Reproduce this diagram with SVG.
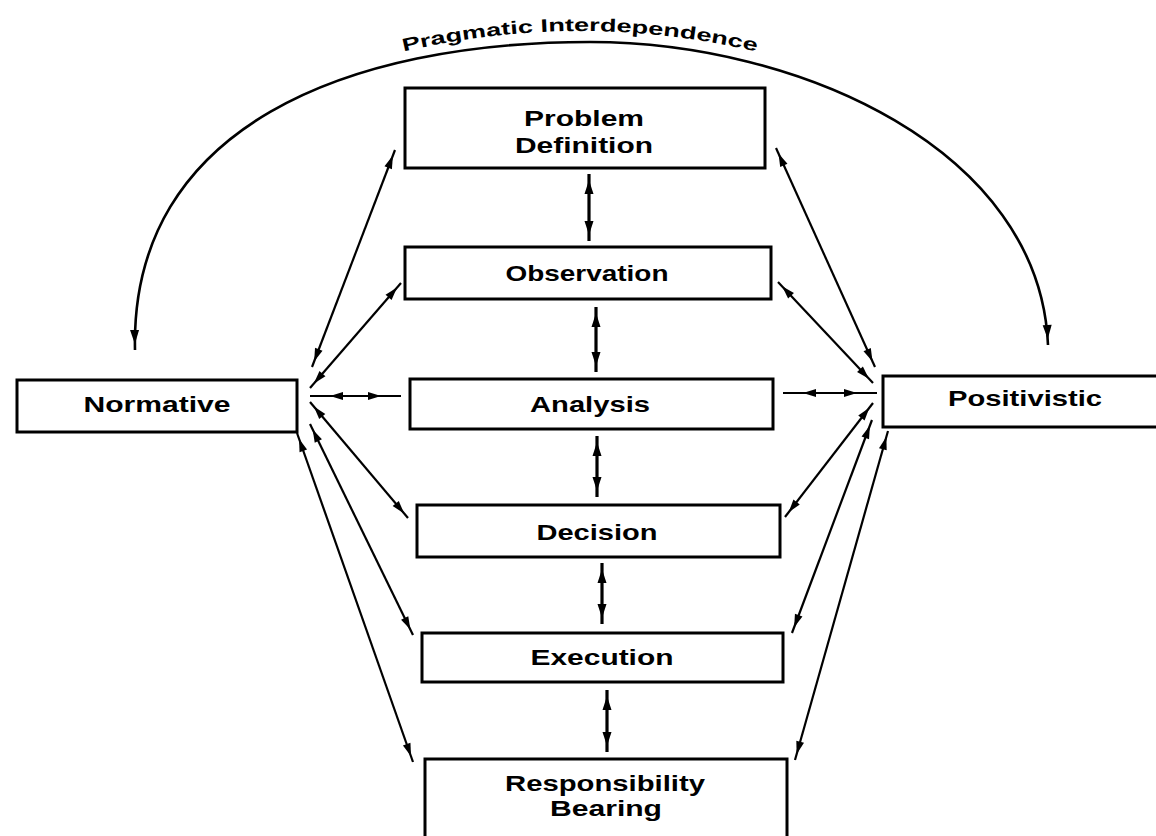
<svg xmlns="http://www.w3.org/2000/svg" width="1156" height="836" viewBox="0 0 1156 836">
<style>
.box{fill:#fff;stroke:#000;stroke-width:3}
.lbl{font-family:"Liberation Sans",Arial,sans-serif;font-weight:bold;font-size:22px;fill:#000;text-anchor:middle}
.c{fill:none;stroke:#000;stroke-width:2.2}
.v{fill:none;stroke:#000;stroke-width:3.2}
.arc{fill:none;stroke:#000;stroke-width:2.6}
.arctext{font-family:"Liberation Sans",Arial,sans-serif;font-weight:bold;font-size:18px;fill:#000}
</style>
<defs>
<marker id="ah" markerUnits="userSpaceOnUse" viewBox="0 0 40 12" markerWidth="40" markerHeight="12" refX="36" refY="6" orient="auto-start-reverse">
<path d="M17,2 L30,6 L17,10 z" fill="#000"/>
</marker>
<marker id="ahh" markerUnits="userSpaceOnUse" viewBox="0 0 60 12" markerWidth="60" markerHeight="12" refX="50" refY="6" orient="auto-start-reverse">
<path d="M17,2 L30,6 L17,10 z" fill="#000"/>
</marker>
<marker id="av" markerUnits="userSpaceOnUse" viewBox="0 0 40 12" markerWidth="40" markerHeight="12" refX="36" refY="6" orient="auto-start-reverse">
<path d="M16,1.5 L30,6 L16,10.5 z" fill="#000"/>
</marker>
<path id="tp" d="M398,53 Q580,9 762,53"/>
</defs>

<g id="connectors">
<path class="arc" d="M135,350 C130,125 350,42 590,42 C800,42 1040,150 1048,345" marker-start="url(#av)" marker-end="url(#av)"/>
<text class="arctext"><textPath href="#tp" startOffset="50%" text-anchor="middle" textLength="356" lengthAdjust="spacingAndGlyphs">Pragmatic Interdependence</textPath></text>

<line class="v" x1="589" y1="174" x2="589" y2="241" marker-start="url(#av)" marker-end="url(#av)"/>
<line class="v" x1="596" y1="307" x2="596" y2="372" marker-start="url(#av)" marker-end="url(#av)"/>
<line class="v" x1="597" y1="436" x2="597" y2="497" marker-start="url(#av)" marker-end="url(#av)"/>
<line class="v" x1="602" y1="563" x2="602" y2="624" marker-start="url(#av)" marker-end="url(#av)"/>
<line class="v" x1="607" y1="690" x2="607" y2="752" marker-start="url(#av)" marker-end="url(#av)"/>

<line class="c" x1="312" y1="367" x2="395" y2="150" marker-start="url(#ah)" marker-end="url(#ah)"/>
<line class="c" x1="310" y1="388" x2="401" y2="283" marker-start="url(#ah)" marker-end="url(#ah)"/>
<line class="c" x1="310" y1="396" x2="401" y2="396" marker-start="url(#ahh)" marker-end="url(#ahh)"/>
<line class="c" x1="310" y1="402" x2="408" y2="518" marker-start="url(#ah)" marker-end="url(#ah)"/>
<line class="c" x1="310" y1="424" x2="413" y2="635" marker-start="url(#ah)" marker-end="url(#ah)"/>
<line class="c" x1="297" y1="433" x2="413" y2="762" marker-start="url(#ah)" marker-end="url(#ah)"/>

<line class="c" x1="875" y1="367" x2="776" y2="148" marker-start="url(#ah)" marker-end="url(#ah)"/>
<line class="c" x1="873" y1="383" x2="778" y2="282" marker-start="url(#ah)" marker-end="url(#ah)"/>
<line class="c" x1="877" y1="393" x2="783" y2="393" marker-start="url(#ahh)" marker-end="url(#ahh)"/>
<line class="c" x1="873" y1="403" x2="785" y2="517" marker-start="url(#ah)" marker-end="url(#ah)"/>
<line class="c" x1="872" y1="420" x2="792" y2="633" marker-start="url(#ah)" marker-end="url(#ah)"/>
<line class="c" x1="888" y1="431" x2="795" y2="760" marker-start="url(#ah)" marker-end="url(#ah)"/>
</g>

<g id="problem-definition">
<rect class="box" x="405" y="88" width="360" height="80"/>
<text class="lbl" x="584" y="126" textLength="120" lengthAdjust="spacingAndGlyphs">Problem</text>
<text class="lbl" x="584" y="153" textLength="138" lengthAdjust="spacingAndGlyphs">Definition</text>
</g>
<g id="observation">
<rect class="box" x="405" y="247" width="366" height="52"/>
<text class="lbl" x="587" y="281" textLength="163" lengthAdjust="spacingAndGlyphs">Observation</text>
</g>
<g id="analysis">
<rect class="box" x="410" y="379" width="363" height="50"/>
<text class="lbl" x="590" y="412" textLength="120" lengthAdjust="spacingAndGlyphs">Analysis</text>
</g>
<g id="decision">
<rect class="box" x="417" y="505" width="363" height="52"/>
<text class="lbl" x="597" y="540" textLength="121" lengthAdjust="spacingAndGlyphs">Decision</text>
</g>
<g id="execution">
<rect class="box" x="422" y="633" width="361" height="49"/>
<text class="lbl" x="602" y="665" textLength="143" lengthAdjust="spacingAndGlyphs">Execution</text>
</g>
<g id="responsibility-bearing">
<rect class="box" x="425" y="759" width="362" height="90"/>
<text class="lbl" x="605" y="791" textLength="200" lengthAdjust="spacingAndGlyphs">Responsibility</text>
<text class="lbl" x="606" y="816" textLength="112" lengthAdjust="spacingAndGlyphs">Bearing</text>
</g>
<g id="normative">
<rect class="box" x="17" y="380" width="280" height="52"/>
<text class="lbl" x="157" y="412" textLength="147" lengthAdjust="spacingAndGlyphs">Normative</text>
</g>
<g id="positivistic">
<rect class="box" x="883" y="376" width="290" height="51"/>
<text class="lbl" x="1025" y="406" textLength="154" lengthAdjust="spacingAndGlyphs">Positivistic</text>
</g>
</svg>
